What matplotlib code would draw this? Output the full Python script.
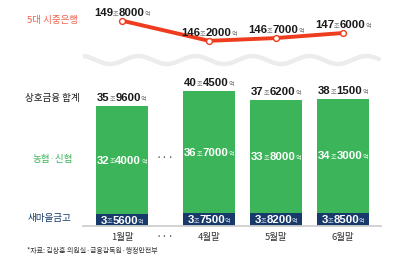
import numpy as np
import matplotlib
matplotlib.use('Agg')
import matplotlib.pyplot as plt
from matplotlib.transforms import offset_copy

plt.rcParams['font.family'] = ['Noto Sans CJK KR', 'DejaVu Sans']
NUM_FONT = ['Liberation Sans Narrow', 'Liberation Sans', 'DejaVu Sans']

# Data (억원)
months = ['1월말', '4월말', '5월말', '6월말']
banks = [1498000, 1462000, 1467000, 1476000]      # 5대 시중은행
nonghyup = [324000, 367000, 338000, 343000]       # 농협·신협
saemaul = [35600, 37500, 38200, 38500]            # 새마을금고
totals = [a + b for a, b in zip(nonghyup, saemaul)]

# Colors
RED = '#f03c1e'
SALMON = '#f0604c'
GREEN = '#3cb55a'
NAVY = '#173a6b'
DARK = '#1a1a1a'

W, H = 408, 254
fig = plt.figure(figsize=(W / 100, H / 100), dpi=100)
fig.patch.set_facecolor('white')

pos = np.array([0, 1.3, 2.3, 3.3])
xlim = (-0.582, 3.866)


def px_axes(x0, y0, x1, y1):
    # axes placed by pixel box (y measured from top)
    return fig.add_axes([x0 / W, (H - y1) / H, (x1 - x0) / W, (y1 - y0) / H])


def money(ax, x, y, v, color, unit_color, dy, fs=8.2):
    jo, eok = divmod(v, 10000)
    parts = [(str(jo), fs, 'bold', color, NUM_FONT),
             ('조', fs * 0.55, 'normal', unit_color, None),
             (str(eok), fs, 'bold', color, NUM_FONT),
             ('억', fs * 0.55, 'normal', unit_color, None)]
    r = fig.canvas.get_renderer()
    texts = []
    for txt, size, w, c, fam in parts:
        kw = {'family': fam} if fam else {}
        texts.append(ax.text(x, y, txt, fontsize=size, fontweight=w, color=c,
                             ha='left', va='baseline', clip_on=False, **kw))
    widths = [t.get_window_extent(r).width for t in texts]
    cum = -sum(widths) / 2
    for t, w in zip(texts, widths):
        t.set_transform(offset_copy(ax.transData, fig=fig, x=cum, y=dy, units='dots'))
        cum += w


# bars
ax = px_axes(83, 86, 381, 226)
ax.set_xlim(*xlim)
ax.set_ylim(0, 140 / 3.34)
bw = 0.776
g = np.array(nonghyup) / 1e4
s = np.array(saemaul) / 1e4
ax.bar(pos, s, bw, color=NAVY, zorder=2)
ax.bar(pos, g, bw, bottom=s, color=GREEN, zorder=2)
for sp in ['top', 'left', 'right']:
    ax.spines[sp].set_visible(False)
ax.spines['bottom'].set_color('#cfcfcf')
ax.spines['bottom'].set_linewidth(1.3)
ax.set_yticks([])
ax.set_xticks(pos, months, fontsize=6.8, color='#333333')
ax.tick_params(axis='x', length=0, pad=5)

for i in range(len(pos)):
    money(ax, pos[i], totals[i] / 1e4, totals[i], DARK, '#777777', 5.0)
    money(ax, pos[i], s[i] + g[i] / 2, nonghyup[i], 'white', '#dff3e3', -3.5)
    money(ax, pos[i], s[i] / 2, saemaul[i], 'white', '#c8d3e6', -3.5)

# line
lx = px_axes(83, 5, 381, 55)
lx.set_xlim(*xlim)
lx.set_ylim(143.67, 152.6)
lx.axis('off')
b = np.array(banks) / 1e4
lx.plot(pos, b, color=RED, lw=2.8, solid_capstyle='round', zorder=2)
lx.plot(pos, b, 'o', ms=4.2, mfc='white', mec=RED, mew=1.0, zorder=3, clip_on=False)
for i in range(len(pos)):
    money(lx, pos[i], b[i], banks[i], DARK, '#777777', 5.0)

# break mark (wave)
wx = px_axes(83, 50, 381, 70)
wx.axis('off')
xx = np.linspace(84, 379, 400)
wx.plot(xx, -np.cos(2 * np.pi * (xx - 110) / 57), color='#ececec', lw=3.2,
        solid_capstyle='round')
wx.set_xlim(83, 381)
wx.set_ylim(-2.5, 2.5)

# left labels
lab = dict(fontsize=6.9, ha='center', va='center')
fig.text(53 / W, 1 - 20 / H, '5대 시중은행', color=SALMON, **lab)
fig.text(52 / W, 1 - 98 / H, '상호금융 합계', color=DARK, **lab)
fig.text(53 / W, 1 - 159 / H, '농협·신협', color=GREEN, **lab)
fig.text(50 / W, 1 - 219 / H, '새마을금고', color=NAVY, **lab)

# ellipsis
fig.text(165 / W, 1 - 158 / H, '···', color='#555555', fontsize=8, ha='center', va='center')
fig.text(165 / W, 1 - 237 / H, '···', color='#555555', fontsize=8, ha='center', va='center')

fig.text(27 / W, 1 - 251 / H, '*자료: 김상훈 의원실·금융감독원·행정안전부', color='#333333',
         fontsize=5.0, ha='left', va='center')

fig.savefig('out.png', dpi=100, facecolor='white')
